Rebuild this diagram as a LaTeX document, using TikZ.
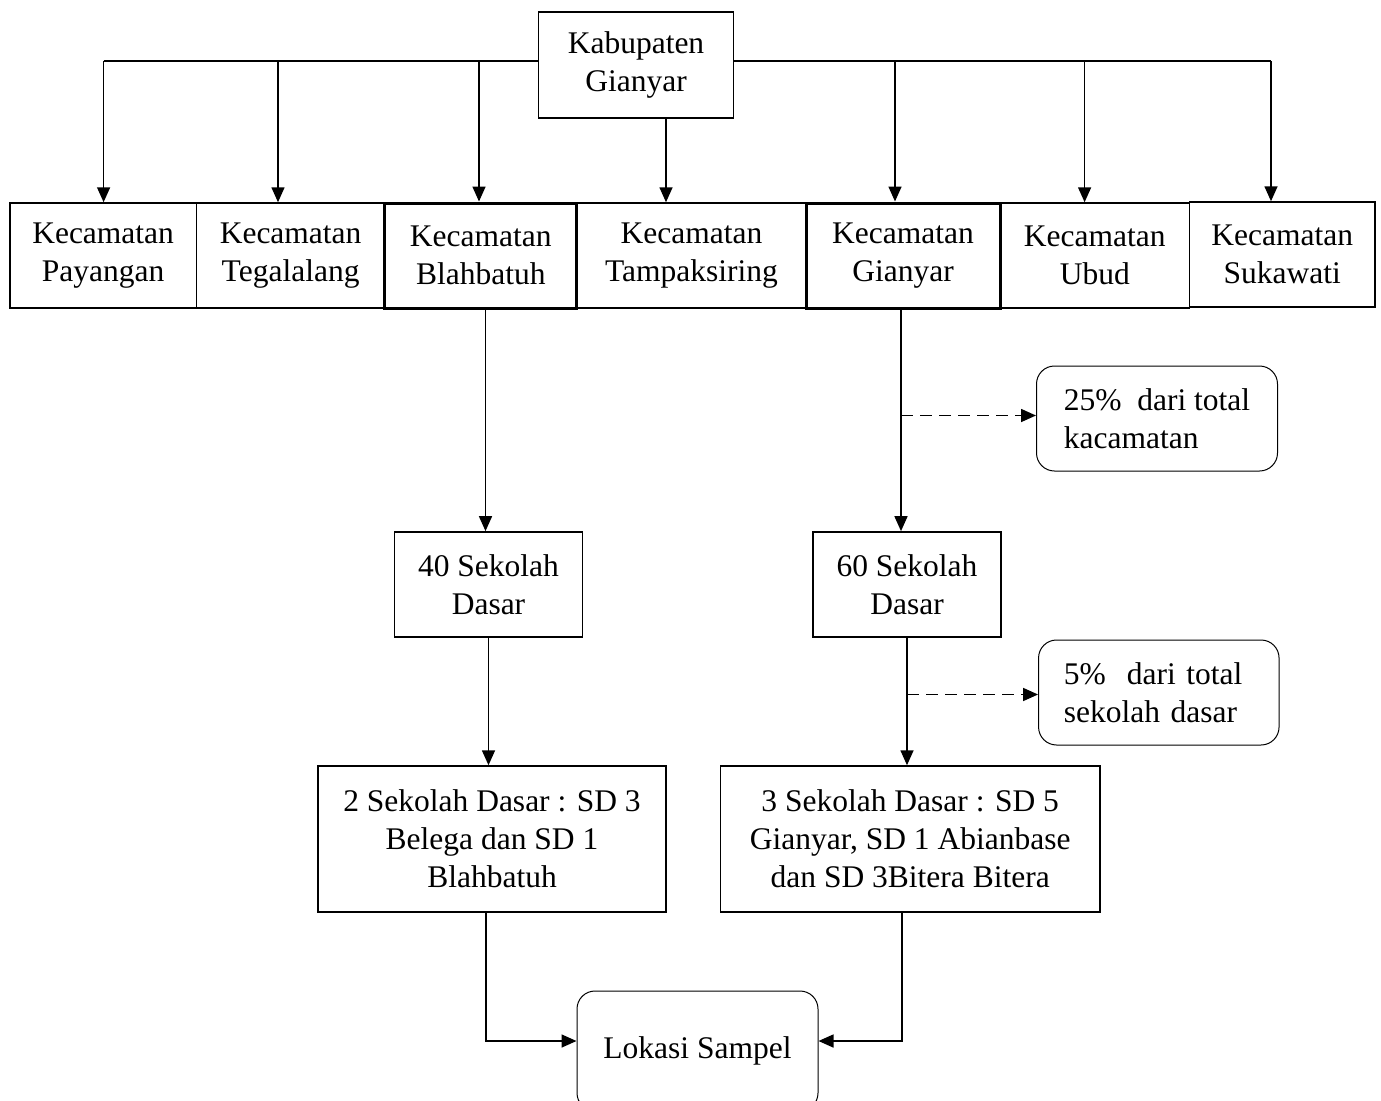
\documentclass[tikz,border=0pt]{standalone}
\usepackage{fontspec}
\setmainfont{Liberation Serif}
\usepackage{tikz}
\usetikzlibrary{arrows.meta,positioning,calc}

\begin{document}
\begin{tikzpicture}[x=1pt,y=-1pt,>={Triangle[length=15pt,width=13pt]},
  font=\fontsize{31.5}{38}\selectfont,
  box/.style={draw,line width=1.5pt,align=center,inner sep=0pt},
  boldbox/.style={box,line width=3pt},
  note/.style={draw,line width=1pt,rounded corners=18pt,inner sep=0pt},
  link/.style={->,line width=1.6pt},
  hint/.style={->,line width=1.6pt,dash pattern=on 12pt off 7pt}]
  \useasboundingbox (0,0) rectangle (1381,1100);
  \node[box,minimum width=195pt,minimum height=106pt] (kab) at (636,65) {Kabupaten\\Gianyar};
  \node[box,minimum width=186.6pt,minimum height=105pt] (pay) at (103.1,255.5) {Kecamatan\\Payangan};
  \node[box,minimum width=188.4pt,minimum height=105pt] (teg) at (290.6,255.5) {Kecamatan\\Tegalalang};
  \node[boldbox,minimum width=192pt,minimum height=105pt] (bla) at (480.8,255.5) {Kecamatan\\Blahbatuh};
  \node[box,minimum width=229.2pt,minimum height=105pt] (tam) at (691.4,255.5) {Kecamatan\\Tampaksiring};
  \node[boldbox,minimum width=194pt,minimum height=105pt] (gia) at (903,255.5) {Kecamatan\\Gianyar};
  \node[box,minimum width=189.6pt,minimum height=105pt] (ubu) at (1094.8,255.5) {Kecamatan\\Ubud};
  \node[box,minimum width=185.4pt,minimum height=105pt] (suk) at (1282.3,254.5) {Kecamatan\\Sukawati};
  \node[note,minimum width=241pt,minimum height=105pt,align=left] (p25) at (1157,418.5) {25\%~~dari total\\kacamatan};
  \node[box,minimum width=188pt,minimum height=105pt] (s40) at (488.5,584.4) {40 Sekolah\\Dasar};
  \node[box,minimum width=188pt,minimum height=105pt] (s60) at (907,584.4) {60 Sekolah\\Dasar};
  \node[note,minimum width=240.5pt,minimum height=105pt,text width=190pt,align=left] (p5) at (1158.8,692.5) {5\%~~dari total\\sekolah dasar};
  \node[box,minimum width=348pt,minimum height=146pt] (sd2) at (492,839) {2 Sekolah Dasar : SD 3\\Belega dan SD 1\\Blahbatuh};
  \node[box,minimum width=379.6pt,minimum height=146pt] (sd3) at (910.2,839) {3 Sekolah Dasar : SD 5\\Gianyar, SD 1 Abianbase\\dan SD 3Bitera Bitera};
  \node[note,minimum width=241pt,minimum height=120pt] (lok) at (697.5,1051) {Lokasi Sampel};

  \coordinate (d1) at (103.6,61);
  \coordinate (d2) at (278,61);
  \coordinate (d3) at (479,61);
  \coordinate (d4) at ($(kab.south)+(30,0)$);
  \coordinate (d5) at (895,61);
  \coordinate (d6) at (1084.6,61);
  \coordinate (d7) at (1271,61);
  \draw[line width=1.6pt] (d1) -- (kab.west |- d1);
  \draw[line width=1.6pt] (kab.east |- d7) -- (d7);
  \foreach \i/\n in {1/pay,2/teg,3/bla,4/tam,5/gia,6/ubu,7/suk}
    \draw[link] (d\i) -- (d\i |- \n.north);

  \draw[link] ($(s40.north |- bla.south)+(-3,0)$) -- ($(s40.north)+(-3,0)$);
  \draw[link] ($(gia.south)+(-2,0)$) -- ($(gia.south |- s60.north)+(-2,0)$);
  \draw[hint] (p25.west -| gia.south) ++(-2,-3) -- ($(p25.west)+(0,-3)$);
  \draw[link] (s40.south) -- (s40.south |- sd2.north);
  \draw[link] (s60.south) -- (s60.south |- sd3.north);
  \draw[hint] (p5.west -| s60.south) ++(0,2) -- ($(p5.west)+(0,2)$);
  \coordinate (inL) at ($(lok.west)+(0,-10)$);
  \coordinate (inR) at ($(lok.east)+(0,-10)$);
  \draw[link] ($(sd2.south)+(-6,0)$) |- (inL);
  \draw[link] ($(sd3.south)+(-8,0)$) |- (inR);
\end{tikzpicture}
\end{document}
